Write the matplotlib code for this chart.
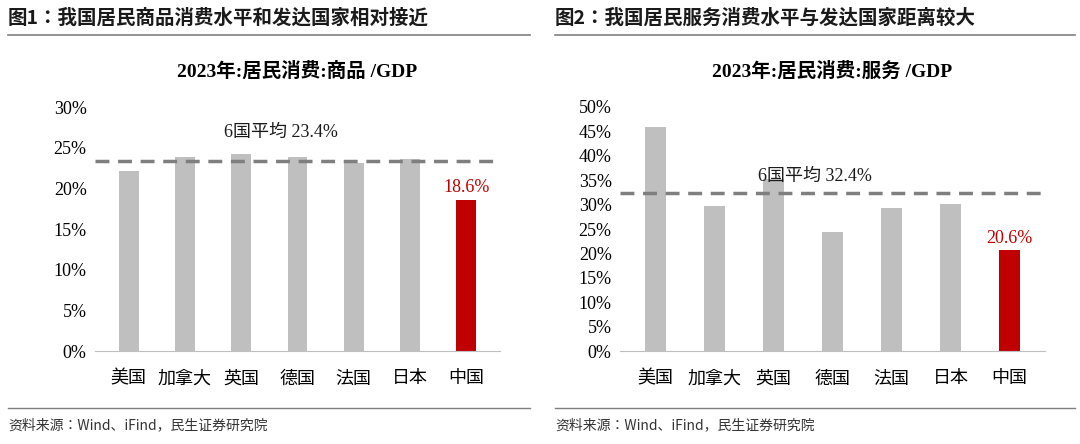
import matplotlib.pyplot as plt
from matplotlib import font_manager

countries = ["美国", "加拿大", "英国", "德国", "法国", "日本", "中国"]
goods = [22.1, 23.8, 24.2, 23.9, 23.1, 23.6, 18.6]
services = [45.9, 29.8, 35.2, 24.3, 29.4, 30.1, 20.6]
goods_avg = 23.4
services_avg = 32.4

cjk_names = sorted({f.name for f in font_manager.fontManager.ttflist if "CJK" in f.name})
CJK = next((n for n in cjk_names if "SC" in n), cjk_names[0] if cjk_names else "DejaVu Sans")
SERIF = ["Liberation Serif", CJK]
plt.rcParams["font.family"] = SERIF
W, H = 1080, 444
fig = plt.figure(figsize=(W / 100, H / 100), dpi=100)

GRAY = "#BFBFBF"
RED = "#C00000"


def px(x0, y0, x1, y1):
    return [x0 / W, 1 - y1 / H, (x1 - x0) / W, (y1 - y0) / H]


def panel(x_left, x_right, title, sub, vals, avg, ymax, step, ax_box, avg_pos):
    fig.text(x_left / W, 1 - 18 / H, title, fontsize=14, fontweight="bold",
             family=CJK, va="center", color="#1a1a1a")
    fig.add_artist(plt.Line2D([x_left / W, x_right / W], [1 - 35 / H] * 2,
                              color="#7f7f7f", lw=1.2))
    fig.text(x_left / W, 1 - 425 / H, "资料来源：Wind、iFind，民生证券研究院",
             fontsize=10, family=CJK, va="center", color="#333333")
    fig.add_artist(plt.Line2D([x_left / W, x_right / W], [1 - 408 / H] * 2,
                              color="#7f7f7f", lw=1.0))
    ax = fig.add_axes(px(*ax_box))
    colors = [GRAY] * (len(vals) - 1) + [RED]
    xs = range(len(vals))
    ax.bar(xs, vals, width=0.35, color=colors)
    ax.plot([-0.6, len(vals) - 0.4], [avg, avg], ls="--", color="#7f7f7f", lw=2.5,
            dashes=(4, 2.5))
    ax.set_xlim(-0.6, len(vals) - 0.4)
    ax.set_ylim(0, ymax)
    ax.set_yticks(range(0, ymax + 1, step))
    ax.set_yticklabels([f"{v}%" for v in range(0, ymax + 1, step)], fontsize=13)
    ax.set_xticks(list(xs))
    ax.set_xticklabels(countries, fontsize=13, family=SERIF)
    ax.tick_params(length=0, pad=6)
    ax.tick_params(axis="x", pad=14)
    for s in ["top", "right", "left"]:
        ax.spines[s].set_visible(False)
    ax.spines["bottom"].set_color("#bfbfbf")
    ax.text(len(vals) - 1, vals[-1] + ymax * 0.015, f"{vals[-1]}%", color=RED,
            ha="center", va="bottom", fontsize=13)
    ax.text(avg_pos[0], avg_pos[1], f"6国平均 {avg}%", ha="center", va="bottom",
            fontsize=13, color="#1a1a1a")
    ax.set_title(sub, fontsize=14, fontweight="bold", pad=22)
    return ax


panel(8, 530, "图1：我国居民商品消费水平和发达国家相对接近", "2023年:居民消费:商品 /GDP",
      goods, goods_avg, 30, 5, (95, 107, 500, 351), (2.7, 25.8))
panel(555, 1075, "图2：我国居民服务消费水平与发达国家距离较大", "2023年:居民消费:服务 /GDP",
      services, services_avg, 50, 5, (620, 107, 1045, 351), (2.7, 34.0))

fig.savefig("out.png", dpi=100)
